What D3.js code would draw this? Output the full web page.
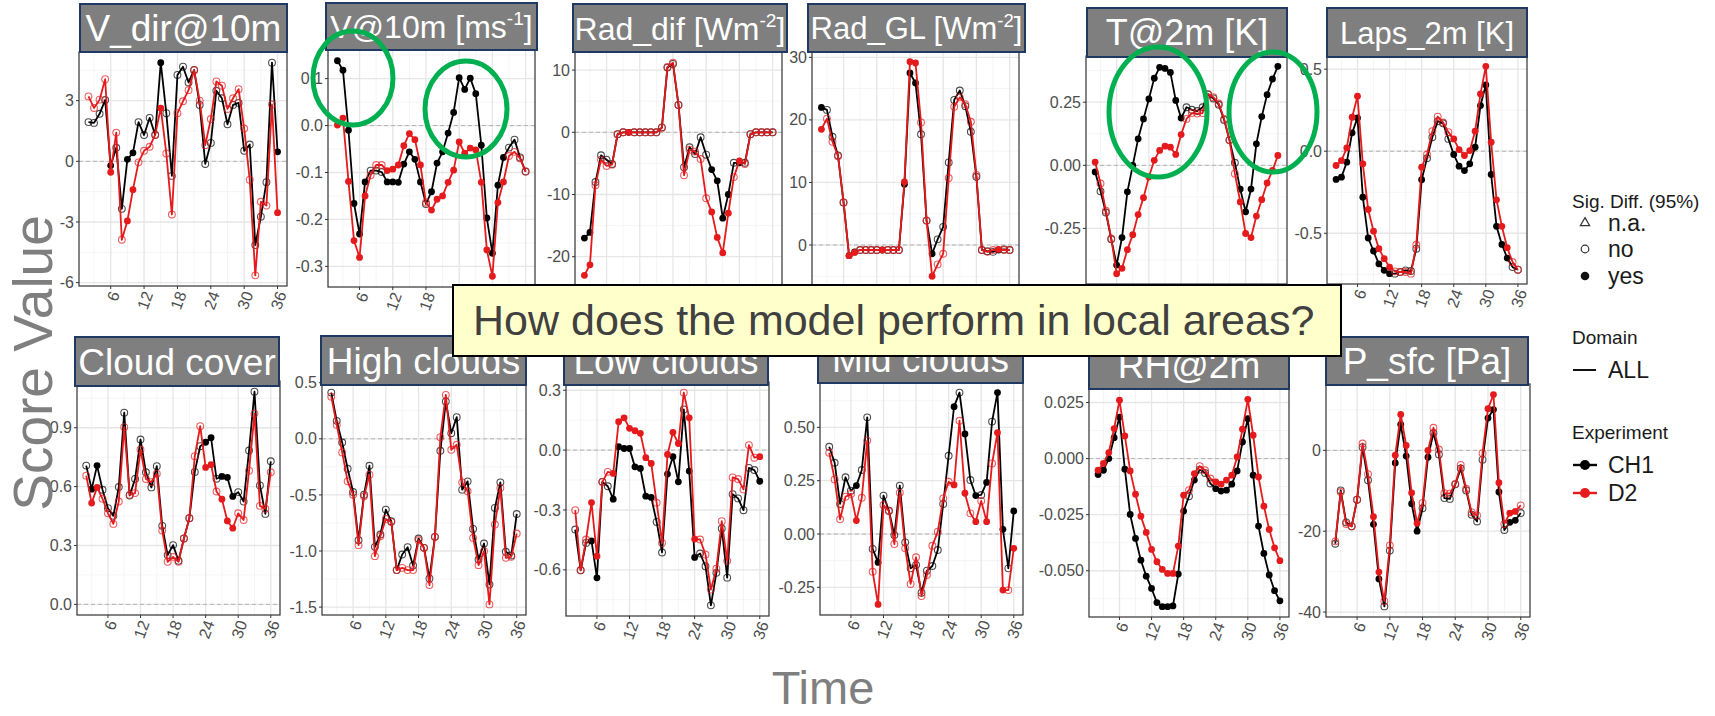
<!DOCTYPE html>
<html>
<head>
<meta charset="utf-8">
<script src="https://cdn.jsdelivr.net/npm/d3@7"></script>
<style>
  body { margin: 0; background: #fff; }
  svg { display: block; font-family: "Liberation Sans", Arial, sans-serif; }
</style>
</head>
<body>
<div id="chart"></div>
<script>
// Lead times (hours)
var times = [2,3,4,5,6,7,8,9,10,11,12,13,14,15,16,17,18,19,20,21,22,23,24,25,26,27,28,29,30,31,32,33,34,35,36];
var timeTicks = [6, 12, 18, 24, 30, 36];

// Score values per variable, CH1 / D2, and significance (1 = yes, 0 = no)
var vDir_CH1 = [1.94,1.9,2.35,3.03,-0.21,0.67,-2.35,0.1,0.42,1.94,1.3,2.15,1.3,4.88,2.38,-0.72,4.27,4.68,3.9,4.52,2.79,-0.13,0.91,3.49,3.12,1.83,2.79,2.89,0.52,0.83,-4.14,-2.74,-1.03,4.88,0.47];
var vDir_D2  = [3.21,2.64,3.05,4.06,-0.54,1.42,-3.88,-2.95,-1.4,-0.05,0.52,0.72,1.32,2.63,0.39,-2.63,2.38,2.97,3.52,4.5,3.0,0.8,2.09,3.95,3.74,2.59,3.12,3.57,1.62,-0.91,-5.64,-2.0,-2.19,2.81,-2.54];
var vDir_sig = "00001001100001000000000000000000001";

var v10_CH1 = [0.138,0.118,-0.01,-0.166,-0.231,-0.12,-0.096,-0.096,-0.099,-0.12,-0.12,-0.121,-0.082,-0.056,-0.072,-0.12,-0.167,-0.141,-0.08,-0.056,-0.016,0.028,0.102,0.077,0.101,0.068,-0.042,-0.197,-0.272,-0.127,-0.068,-0.047,-0.03,-0.068,-0.098];
var v10_D2  = [0.001,0.016,-0.119,-0.245,-0.281,-0.15,-0.106,-0.084,-0.084,-0.096,-0.093,-0.084,-0.043,-0.017,-0.03,-0.084,-0.164,-0.18,-0.157,-0.15,-0.121,-0.095,-0.035,-0.059,-0.048,-0.052,-0.121,-0.265,-0.321,-0.164,-0.12,-0.065,-0.056,-0.07,-0.098];
var v10_sig = "11111100011111110111111111111110000";

var radDif_CH1 = [-17.0,-16.1,-8.0,-3.7,-4.4,-5.1,-0.3,0,0,0,0,0,0,0,0.8,10.4,11.0,4.4,-5.6,-2.4,-3.5,-0.8,-3.6,-6.0,-7.8,-13.8,-10.0,-4.9,-4.9,-4.9,-0.3,0,0,0,0];
var radDif_D2  = [-23.0,-21.3,-8.5,-4.4,-5.4,-5.2,-0.3,0,0,0,0,0,0,0,0.7,10.5,11.2,4.4,-6.9,-2.8,-3.1,-4.3,-10.6,-12.8,-16.9,-19.4,-13.0,-7.2,-4.6,-5.1,-0.3,0,0,0,0];
var radDif_sig = "11000000100000000000000111101000000";

var radGL_CH1 = [22.0,21.6,17.3,14.3,6.8,-1.7,-1.1,-0.8,-0.8,-0.8,-0.8,-0.8,-0.8,-0.8,-0.8,9.7,27.5,25.9,17.7,3.9,-1.4,0.9,2.9,13.2,23.2,24.7,22.2,18.1,10.9,-0.8,-1.0,-1.1,-0.8,-0.7,-0.8];
var radGL_D2  = [18.5,20.2,16.5,14.2,6.8,-1.7,-1.2,-0.8,-0.8,-0.8,-0.8,-0.8,-0.8,-0.8,-0.8,10.1,29.3,29.1,19.6,3.9,-5.0,-3.1,-1.4,10.7,22.1,23.6,22.5,19.7,11.2,-0.8,-1.1,-0.8,-0.7,-0.8,-0.8];
var radGL_sig = "10000110000100011100100000000000100";

var t2m_CH1 = [-0.026,-0.103,-0.187,-0.293,-0.395,-0.286,-0.105,0.0,0.105,0.184,0.263,0.345,0.388,0.384,0.368,0.257,0.187,0.23,0.22,0.215,0.23,0.28,0.265,0.24,0.18,0.1,0.01,-0.094,-0.184,-0.094,0.085,0.193,0.28,0.342,0.392];
var t2m_D2  = [0.013,-0.072,-0.18,-0.29,-0.429,-0.408,-0.334,-0.275,-0.195,-0.128,-0.046,0.02,0.059,0.076,0.072,0.043,0.122,0.184,0.207,0.205,0.207,0.283,0.27,0.245,0.184,0.1,-0.033,-0.145,-0.27,-0.286,-0.201,-0.136,-0.07,-0.02,0.039];
var t2m_sig = "10001111111111111000000000011111111";

var laps_CH1 = [-0.172,-0.158,-0.067,0.112,0.203,-0.28,-0.529,-0.608,-0.686,-0.726,-0.746,-0.746,-0.736,-0.726,-0.73,-0.594,-0.174,-0.043,0.085,0.183,0.17,0.075,-0.02,-0.091,-0.118,-0.077,0.024,0.278,0.404,-0.142,-0.458,-0.568,-0.651,-0.706,-0.722];
var laps_D2  = [-0.087,-0.057,0.02,0.207,0.335,-0.077,-0.355,-0.487,-0.594,-0.655,-0.706,-0.732,-0.736,-0.736,-0.746,-0.57,-0.097,-0.02,0.122,0.211,0.176,0.116,0.075,0.01,-0.026,0.004,0.122,0.349,0.517,0.055,-0.296,-0.458,-0.588,-0.675,-0.722];
var laps_sig = "11111111111000001000001111111111100";

var cloud_CH1 = [0.707,0.587,0.707,0.584,0.49,0.451,0.598,0.977,0.555,0.639,0.84,0.673,0.596,0.704,0.4,0.251,0.302,0.222,0.336,0.439,0.675,0.806,0.826,0.849,0.64,0.652,0.647,0.55,0.572,0.524,0.784,1.084,0.606,0.461,0.729];
var cloud_D2  = [0.656,0.516,0.596,0.538,0.464,0.41,0.524,0.903,0.558,0.567,0.789,0.639,0.623,0.666,0.376,0.217,0.242,0.217,0.336,0.439,0.755,0.908,0.698,0.712,0.575,0.536,0.425,0.388,0.464,0.43,0.681,0.972,0.502,0.487,0.673];
var cloud_sig = "01100000000000000000001101110000000";

var high_CH1 = [0.412,0.16,-0.033,-0.267,-0.474,-0.904,-0.498,-0.24,-0.963,-0.853,-0.631,-0.735,-1.17,-1.031,-0.966,-1.129,-0.889,-0.972,-1.244,-0.874,-0.107,0.332,0.05,0.193,-0.453,-0.379,-0.803,-1.076,-0.933,-1.298,-0.616,-0.388,-1.007,-1.04,-0.67];
var high_D2  = [0.376,0.124,-0.121,-0.379,-0.498,-0.948,-0.513,-0.32,-1.046,-0.868,-0.714,-0.741,-1.17,-1.15,-1.17,-1.17,-0.904,-0.972,-1.304,-0.874,0.015,0.391,-0.098,-0.053,-0.388,-0.468,-0.883,-1.126,-1.001,-1.476,-0.764,-0.439,-1.061,-1.052,-0.844];
var high_sig = "00000000000000000000000000000000000";

var low_CH1 = [-0.398,-0.602,-0.465,-0.455,-0.64,-0.159,-0.181,-0.246,0.017,0.008,0.008,-0.084,-0.092,-0.231,-0.237,-0.36,-0.513,-0.12,-0.033,-0.159,0.204,-0.105,-0.538,-0.518,-0.582,-0.778,-0.615,-0.393,-0.639,-0.221,-0.242,-0.301,-0.089,-0.1,-0.156];
var low_D2  = [-0.301,-0.602,-0.448,-0.263,-0.532,-0.159,-0.109,-0.117,0.142,0.162,0.109,0.097,0.084,-0.038,-0.067,-0.264,-0.465,-0.022,0.089,0.033,0.288,0.162,-0.446,-0.448,-0.523,-0.699,-0.594,-0.356,-0.555,-0.137,-0.145,-0.197,0.025,-0.038,-0.033];
var low_sig = "00011001111111100111011000000000001";

var mid_CH1 = [0.409,0.334,0.141,0.266,0.203,0.227,0.3,0.547,-0.07,-0.133,0.18,0.109,-0.005,0.227,-0.039,-0.161,-0.145,-0.275,-0.172,-0.15,-0.075,0.141,0.367,0.597,0.663,0.469,0.253,0.18,0.183,0.242,0.527,0.663,0.022,-0.161,0.108];
var mid_D2  = [0.381,0.256,0.069,0.175,0.188,0.063,0.17,0.438,-0.177,-0.33,0.136,0.108,-0.047,0.194,-0.067,-0.234,-0.109,-0.291,-0.192,-0.055,0.011,0.167,0.245,0.23,0.531,0.191,0.097,0.058,0.155,0.058,0.331,0.475,-0.263,-0.263,-0.067];
var mid_sig = "00000100010000000000000101010101101";

var rh_CH1 = [-0.0071,-0.0052,0.0,0.0093,0.0185,-0.0047,-0.0249,-0.0356,-0.0453,-0.0524,-0.0579,-0.0642,-0.066,-0.066,-0.0657,-0.0515,-0.0234,-0.0168,-0.0096,-0.0049,-0.0064,-0.0111,-0.0134,-0.0145,-0.0141,-0.0114,-0.0055,0.0074,0.0178,-0.0074,-0.0301,-0.0423,-0.0519,-0.0589,-0.0634];
var rh_D2  = [-0.0052,-0.0022,0.0027,0.0134,0.026,0.0101,-0.0055,-0.0159,-0.0257,-0.0329,-0.0405,-0.046,-0.0494,-0.0512,-0.0512,-0.039,-0.0163,-0.0141,-0.0067,-0.0034,-0.0052,-0.0089,-0.0104,-0.0114,-0.0096,-0.0074,0.0007,0.0131,0.0264,0.0104,-0.0082,-0.0212,-0.0316,-0.0398,-0.0455];
var rh_sig = "11111111111111111010001111111111111";

var psfc_CH1 = [-23.1,-9.9,-17.8,-18.8,-12.2,0.8,-7.4,-18.3,-31.8,-38.6,-24.8,-3.1,6.4,-1.4,-13.2,-20,-14.3,-1.7,4.3,-1.0,-11.8,-12.0,-8.4,-4.5,-9.9,-15.9,-17.6,-2.3,8.0,10.1,-10.3,-19.7,-17.8,-17.3,-15.5];
var psfc_D2  = [-22.5,-10.3,-18.2,-18.8,-12.2,1.7,-5.9,-16.4,-30.1,-37.3,-23.5,-1.2,8.9,1.2,-10.5,-18,-13.0,0.0,5.6,0.2,-10.6,-10.7,-8.3,-3.6,-9.5,-15.3,-16.1,-0.7,10.3,13.8,-8.0,-18.2,-15.5,-15.1,-13.6];
var psfc_sig = "00000001100111110100000000001110110";

// Panel layout: plot area [left, right, top, bottom], title strip [left, right, top, bottom]
var panels = [
    {title: [["V_dir@10m"]], fs: 37, ch1: vDir_CH1, d2: vDir_D2, sig: vDir_sig, ticks: [-6,-3,0,3], fmt: ".0f",
     plot: [79,287,52,286], box: [80,287,4,52]},
    {title: [["V@10m [ms"],["-1",1],["]"]], fs: 32, ch1: v10_CH1, d2: v10_D2, sig: v10_sig, ticks: [-0.3,-0.2,-0.1,0,0.1], fmt: ".1f",
     plot: [328,535,50,287], box: [326,537,3,50]},
    {title: [["Rad_dif [Wm"],["-2",1],["]"]], fs: 32, ch1: radDif_CH1, d2: radDif_D2, sig: radDif_sig, ticks: [-20,-10,0,10], fmt: ".0f",
     plot: [575,782,52,286], box: [573,787,4,52]},
    {title: [["Rad_GL [Wm"],["-2",1],["]"]], fs: 31, ch1: radGL_CH1, d2: radGL_D2, sig: radGL_sig, ticks: [0,10,20,30], fmt: ".0f",
     plot: [812,1019,51,287], box: [808,1025,4,52]},
    {title: [["T@2m [K]"]], fs: 36, ch1: t2m_CH1, d2: t2m_D2, sig: t2m_sig, ticks: [-0.25,0,0.25], fmt: ".2f",
     plot: [1086,1287,56,284], box: [1087,1287,8,57]},
    {title: [["Laps_2m [K]"]], fs: 31, ch1: laps_CH1, d2: laps_D2, sig: laps_sig, ticks: [-0.5,0,0.5], fmt: ".1f",
     plot: [1327,1527,56,284], box: [1327,1527,8,57]},
    {title: [["Cloud cover"]], fs: 37, ch1: cloud_CH1, d2: cloud_D2, sig: cloud_sig, ticks: [0,0.3,0.6,0.9], fmt: ".1f",
     plot: [77,280,381,615], box: [75,279,337,386]},
    {title: [["High clouds"]], fs: 37, ch1: high_CH1, d2: high_D2, sig: high_sig, ticks: [-1.5,-1,-0.5,0,0.5], fmt: ".1f",
     plot: [322,526,382,615], box: [321,526,336,385]},
    {title: [["Low clouds"]], fs: 37, ch1: low_CH1, d2: low_D2, sig: low_sig, ticks: [-0.6,-0.3,0,0.3], fmt: ".1f",
     plot: [566,769,382,616], box: [564,768,337,385]},
    {title: [["Mid clouds"]], fs: 37, ch1: mid_CH1, d2: mid_D2, sig: mid_sig, ticks: [-0.25,0,0.25,0.5], fmt: ".2f",
     plot: [820,1023,382,615], box: [818,1023,335,383]},
    {title: [["RH@2m"]], fs: 37, ch1: rh_CH1, d2: rh_D2, sig: rh_sig, ticks: [-0.05,-0.025,0,0.025], fmt: ".3f",
     plot: [1089,1289,389,617], box: [1089,1289,341,389]},
    {title: [["P_sfc [Pa]"]], fs: 37, ch1: psfc_CH1, d2: psfc_D2, sig: psfc_sig, ticks: [-40,-20,0], fmt: ".0f",
     plot: [1326,1530,384,617], box: [1326,1528,337,385]}
];

var colCH1 = "#000000";
var colD2 = "#e41a1c";
var tickCol = "#4d4d4d";

var svgWidth = 1715;
var svgHeight = 716;

var svg = d3.select("#chart")
    .append("svg")
    .attr("width", svgWidth)
    .attr("height", svgHeight);

var defs = svg.append("defs");

function fmtTick(f) {
    var base = d3.format(f);
    return function(v) { return base(v).replace("\u2212", "-"); };
}

panels.forEach(function(p, i) {
    var L = p.plot[0], R = p.plot[1], T = p.plot[2], B = p.plot[3];

    // x: 2..36 with ggplot's 5% expansion
    var xPad = (d3.max(times) - d3.min(times)) * 0.05;
    var xScale = d3.scaleLinear()
        .domain([d3.min(times) - xPad, d3.max(times) + xPad])
        .range([L, R]);

    // y: data plus the zero line, 5% expansion
    var all = p.ch1.concat(p.d2, [0]);
    var yMin = d3.min(all), yMax = d3.max(all);
    var yPad = (yMax - yMin) * 0.05;
    var yScale = d3.scaleLinear()
        .domain([yMin - yPad, yMax + yPad])
        .range([B, T]);

    var g = svg.append("g").attr("class", "panel");

    // minor / major grid
    var step = p.ticks[1] - p.ticks[0];
    var yMinor = [];
    for (var k = -1; k < p.ticks.length; k++) {
        var m = p.ticks[0] + (k + 0.5) * step;
        if (m > yScale.domain()[0] && m < yScale.domain()[1]) yMinor.push(m);
    }
    var xMinor = timeTicks.map(function(t) { return t - 3; });

    g.selectAll(null).data(yMinor).enter().append("line")
        .attr("x1", L).attr("x2", R)
        .attr("y1", d => yScale(d)).attr("y2", d => yScale(d))
        .attr("stroke", "#f2f2f2").attr("stroke-width", 0.8);
    g.selectAll(null).data(xMinor).enter().append("line")
        .attr("y1", T).attr("y2", B)
        .attr("x1", d => xScale(d)).attr("x2", d => xScale(d))
        .attr("stroke", "#f2f2f2").attr("stroke-width", 0.8);
    g.selectAll(null).data(p.ticks).enter().append("line")
        .attr("x1", L).attr("x2", R)
        .attr("y1", d => yScale(d)).attr("y2", d => yScale(d))
        .attr("stroke", "#e6e6e6").attr("stroke-width", 1.3);
    g.selectAll(null).data(timeTicks).enter().append("line")
        .attr("y1", T).attr("y2", B)
        .attr("x1", d => xScale(d)).attr("x2", d => xScale(d))
        .attr("stroke", "#e6e6e6").attr("stroke-width", 1.3);

    // zero reference line
    g.append("line")
        .attr("x1", L).attr("x2", R)
        .attr("y1", yScale(0)).attr("y2", yScale(0))
        .attr("stroke", "#b3b3b3").attr("stroke-width", 1)
        .attr("stroke-dasharray", "4,3");

    // series
    var series = [{vals: p.ch1, col: colCH1}, {vals: p.d2, col: colD2}];
    series.forEach(function(s) {
        var pts = times.map(function(t, j) {
            return {t: t, v: s.vals[j], sig: p.sig.charAt(j) === "1"};
        });
        var line = d3.line().x(d => xScale(d.t)).y(d => yScale(d.v));
        g.append("path")
            .datum(pts)
            .attr("d", line)
            .attr("fill", "none")
            .attr("stroke", s.col)
            .attr("stroke-width", 1.8)
            .attr("stroke-linejoin", "round");
        g.selectAll(null).data(pts).enter().append("circle")
            .attr("cx", d => xScale(d.t))
            .attr("cy", d => yScale(d.v))
            .attr("r", 3.4)
            .attr("fill", d => d.sig ? s.col : "none")
            .attr("stroke", s.col)
            .attr("stroke-width", d => d.sig ? 0 : 1.1)
            .attr("stroke-opacity", 0.7);
    });

    // panel border
    g.append("rect")
        .attr("x", L).attr("y", T)
        .attr("width", R - L).attr("height", B - T)
        .attr("fill", "none")
        .attr("stroke", "#333").attr("stroke-width", 1.2);

    // y axis ticks + labels
    var fmt = fmtTick(p.fmt);
    g.selectAll(null).data(p.ticks).enter().append("line")
        .attr("x1", L - 3).attr("x2", L)
        .attr("y1", d => yScale(d)).attr("y2", d => yScale(d))
        .attr("stroke", "#333");
    g.selectAll(null).data(p.ticks).enter().append("text")
        .attr("x", L - 5)
        .attr("y", d => yScale(d))
        .attr("dy", "0.35em")
        .attr("text-anchor", "end")
        .attr("font-size", "16px")
        .attr("fill", tickCol)
        .text(d => fmt(d));

    // x axis ticks + rotated labels
    g.selectAll(null).data(timeTicks).enter().append("line")
        .attr("x1", d => xScale(d)).attr("x2", d => xScale(d))
        .attr("y1", B).attr("y2", B + 3)
        .attr("stroke", "#333");
    g.selectAll(null).data(timeTicks).enter().append("text")
        .attr("transform", d => `translate(${xScale(d) + 4}, ${B + 6}) rotate(-70)`)
        .attr("dy", "0.35em")
        .attr("text-anchor", "end")
        .attr("font-size", "16px")
        .attr("fill", tickCol)
        .text(d => d);

    // title strip
    var bx0 = p.box[0], bx1 = p.box[1], by0 = p.box[2], by1 = p.box[3];
    defs.append("clipPath").attr("id", "clip" + i)
        .append("rect")
        .attr("x", bx0).attr("y", by0)
        .attr("width", bx1 - bx0).attr("height", by1 - by0);
    g.append("rect")
        .attr("x", bx0).attr("y", by0)
        .attr("width", bx1 - bx0).attr("height", by1 - by0)
        .attr("fill", "#7f7f7f")
        .attr("stroke", "#203864").attr("stroke-width", 2);
    var tt = g.append("text")
        .attr("clip-path", `url(#clip${i})`)
        .attr("x", (bx0 + bx1) / 2)
        .attr("y", (by0 + by1) / 2 + p.fs * 0.36)
        .attr("text-anchor", "middle")
        .attr("font-size", p.fs + "px")
        .attr("fill", "#ffffff");
    var shift = 0;
    p.title.forEach(function(seg) {
        var ts = tt.append("tspan").text(seg[0]);
        if (seg[1]) {
            ts.attr("font-size", (p.fs * 0.6) + "px").attr("dy", -p.fs * 0.4);
            shift = p.fs * 0.4;
        } else if (shift) {
            ts.attr("dy", shift);
            shift = 0;
        }
    });
});

// axis titles
svg.append("text")
    .attr("transform", "translate(52, 363) rotate(-90)")
    .attr("text-anchor", "middle")
    .attr("font-size", "55px")
    .attr("fill", "#7f7f7f")
    .text("Score Value");

svg.append("text")
    .attr("x", 823)
    .attr("y", 704)
    .attr("text-anchor", "middle")
    .attr("font-size", "47px")
    .attr("fill", "#7f7f7f")
    .text("Time");

// legend
var legend = svg.append("g").attr("class", "legend");
var legTitleFs = "19px", legItemFs = "23px";

legend.append("text").attr("x", 1572).attr("y", 208)
    .attr("font-size", legTitleFs).attr("fill", "#1a1a1a").text("Sig. Diff. (95%)");
var sigItems = ["n.a.", "no", "yes"];
var sigY = [223, 249, 276];
legend.append("path")
    .attr("d", d3.symbol(d3.symbolTriangle, 38)())
    .attr("transform", `translate(1585, ${sigY[0]})`)
    .attr("fill", "none").attr("stroke", "#333").attr("stroke-width", 1.2);
legend.append("circle").attr("cx", 1585).attr("cy", sigY[1]).attr("r", 3.8)
    .attr("fill", "none").attr("stroke", "#333").attr("stroke-width", 1.2);
legend.append("circle").attr("cx", 1585).attr("cy", sigY[2]).attr("r", 4.3)
    .attr("fill", "#111");
legend.selectAll(null).data(sigItems).enter().append("text")
    .attr("x", 1608).attr("y", (d, j) => sigY[j])
    .attr("dy", "0.35em")
    .attr("font-size", legItemFs).attr("fill", "#1a1a1a")
    .text(d => d);

legend.append("text").attr("x", 1572).attr("y", 344)
    .attr("font-size", legTitleFs).attr("fill", "#1a1a1a").text("Domain");
legend.append("line").attr("x1", 1573).attr("x2", 1596).attr("y1", 370).attr("y2", 370)
    .attr("stroke", "#111").attr("stroke-width", 2);
legend.append("text").attr("x", 1608).attr("y", 370).attr("dy", "0.35em")
    .attr("font-size", legItemFs).attr("fill", "#1a1a1a").text("ALL");

legend.append("text").attr("x", 1572).attr("y", 439)
    .attr("font-size", legTitleFs).attr("fill", "#1a1a1a").text("Experiment");
var expItems = [{name: "CH1", col: colCH1, y: 465}, {name: "D2", col: colD2, y: 493}];
expItems.forEach(function(e) {
    legend.append("line").attr("x1", 1573).attr("x2", 1597).attr("y1", e.y).attr("y2", e.y)
        .attr("stroke", e.col).attr("stroke-width", 2.4);
    legend.append("circle").attr("cx", 1585).attr("cy", e.y).attr("r", 5).attr("fill", e.col);
    legend.append("text").attr("x", 1608).attr("y", e.y).attr("dy", "0.35em")
        .attr("font-size", legItemFs).attr("fill", "#1a1a1a").text(e.name);
});

// callout box
var callout = svg.append("g");
callout.append("rect")
    .attr("x", 453).attr("y", 285)
    .attr("width", 888).attr("height", 71)
    .attr("fill", "#ffffcc")
    .attr("stroke", "#000").attr("stroke-width", 2);
callout.append("text")
    .attr("x", 473).attr("y", 335)
    .attr("font-size", "43px")
    .attr("fill", "#404040")
    .text("How does the model perform in local areas?");

// highlight ellipses
var ellipses = [
    {cx: 353, cy: 78, rx: 40, ry: 47},
    {cx: 466, cy: 109, rx: 41, ry: 48},
    {cx: 1158, cy: 112, rx: 49, ry: 65},
    {cx: 1273, cy: 112, rx: 44, ry: 60}
];
svg.selectAll(null).data(ellipses).enter().append("ellipse")
    .attr("cx", d => d.cx).attr("cy", d => d.cy)
    .attr("rx", d => d.rx).attr("ry", d => d.ry)
    .attr("fill", "none")
    .attr("stroke", "#00b050")
    .attr("stroke-width", 5);
</script>
</body>
</html>
